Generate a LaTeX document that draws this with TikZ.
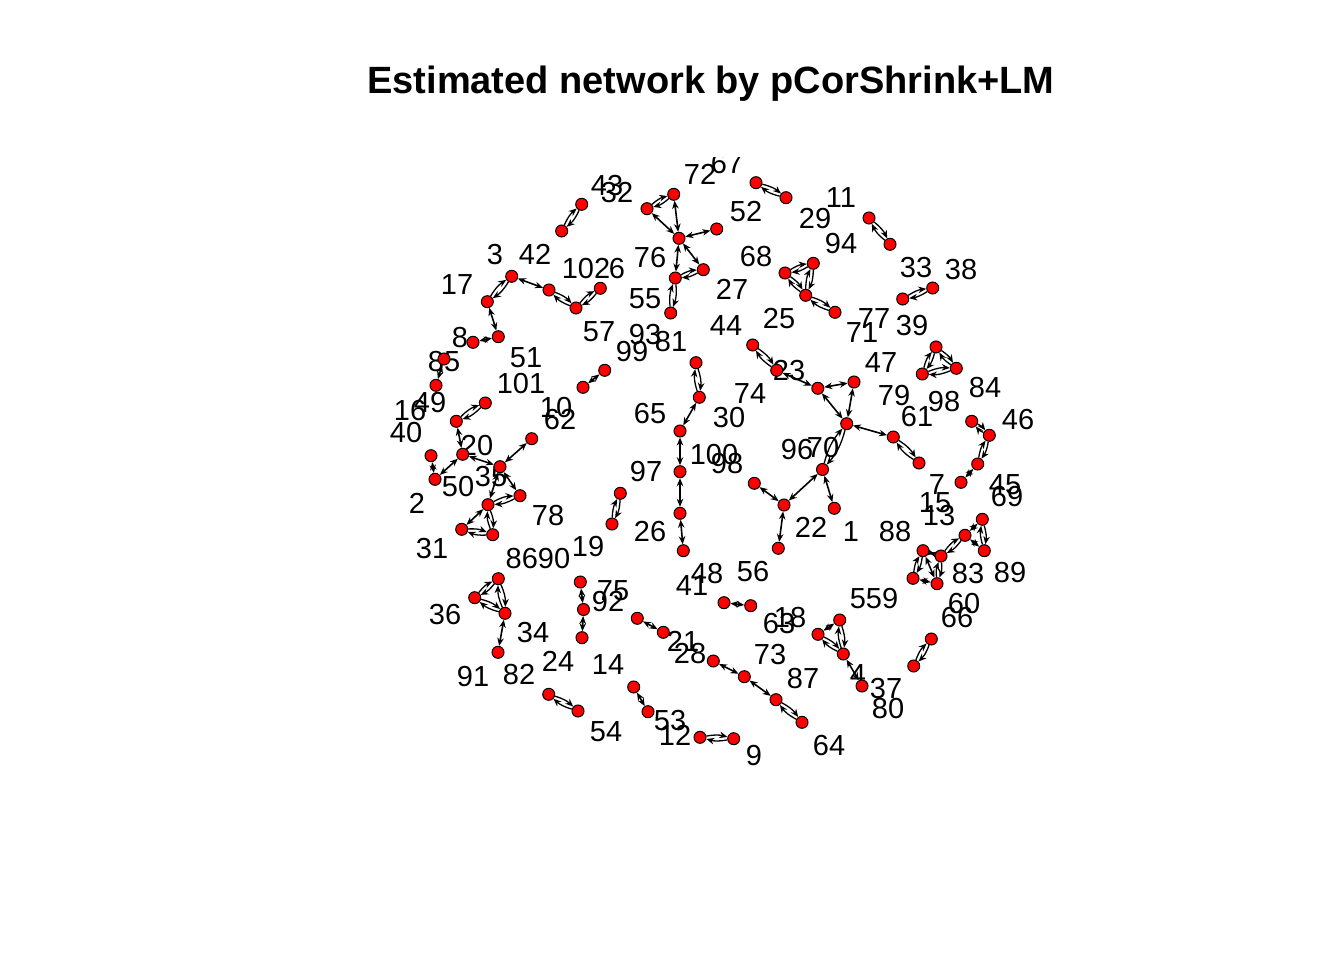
\documentclass[tikz,border=0pt]{standalone}
\usepackage{fontspec}
\setmainfont{Liberation Sans}
\usetikzlibrary{arrows.meta}
\tikzset{
  v/.style={circle,draw=black,fill=red,line width=1pt,inner sep=0pt,minimum size=12pt},
  e/.style={{Stealth[length=8pt,width=6.5pt]}-{Stealth[length=8pt,width=6.5pt]},line width=1.6pt},
  h/.style={-{Stealth[length=8pt,width=6.5pt]},line width=1.3pt},
  lb/.style={font=\fontsize{29}{29}\selectfont,inner sep=0pt,text height=20.8pt,text depth=0pt},
  ttl/.style={font=\fontsize{38}{38}\selectfont\bfseries,inner sep=0pt,text height=27pt,text depth=0pt}
}
\newcommand\lensedge[2]{\draw[h] (#1) to[bend left=13] (#2); \draw[h] (#2) to[bend left=13] (#1);}
\begin{document}
\begin{tikzpicture}[x=1pt,y=-1pt]
\useasboundingbox (0,0) rectangle (1344,960);
\node[ttl] (title) at (711,80) {Estimated network by pCorShrink+LM};
% labels
\node[lb] (L43) at (607,185) {43};
\node[lb] (L32) at (617,192) {32};
\node[lb] (L72) at (700,174) {72};
\begin{scope}
\clip (690,157.5) rectangle (770,200);
\node[lb] (L67) at (727,163) {67};
\end{scope}
\node[lb] (L52) at (746,211) {52};
\node[lb] (L29) at (815,218) {29};
\node[lb] (L11) at (841,197) {11};
\node[lb] (L94) at (841,243) {94};
\node[lb] (L33) at (916,267) {33};
\node[lb] (L38) at (961,269) {38};
\node[lb] (L3) at (495,254) {3};
\node[lb] (L42) at (535,254) {42};
\node[lb] (L102) at (586,268) {102};
\node[lb] (L6) at (617,268) {6};
\node[lb] (L17) at (457,284) {17};
\node[lb] (L76) at (650,257) {76};
\node[lb] (L68) at (756,256) {68};
\node[lb] (L27) at (732,289) {27};
\node[lb] (L55) at (645,298) {55};
\node[lb] (L57) at (599,331) {57};
\node[lb] (L93) at (645,334) {93};
\node[lb] (L99) at (632,351) {99};
\node[lb] (L81) at (671,341) {81};
\node[lb] (L44) at (726,325) {44};
\node[lb] (L25) at (779,318) {25};
\node[lb] (L77) at (874,318) {77};
\node[lb] (L71) at (862,332) {71};
\node[lb] (L39) at (912,325) {39};
\node[lb] (L8) at (460,337) {8};
\node[lb] (L51) at (526,357) {51};
\node[lb] (L85) at (444,361) {85};
\node[lb] (L101) at (521,383) {101};
\node[lb] (L49) at (430,402) {49};
\node[lb] (L16) at (410,410) {16};
\node[lb] (L10) at (556,407) {10};
\node[lb] (L62) at (560,419) {62};
\node[lb] (L40) at (406,432) {40};
\node[lb] (L20) at (477,445) {20};
\node[lb] (L23) at (789,370) {23};
\node[lb] (L74) at (750,393) {74};
\node[lb] (L65) at (650,413) {65};
\node[lb] (L30) at (729,417) {30};
\node[lb] (L100) at (714,454) {100};
\node[lb] (L98b) at (727,463) {98};
\node[lb] (L96) at (797,449) {96};
\node[lb] (L70) at (823,447) {70};
\node[lb] (L47) at (881,362) {47};
\node[lb] (L79) at (894,395) {79};
\node[lb] (L61) at (917,416) {61};
\node[lb] (L98) at (944,401) {98};
\node[lb] (L84) at (985,387) {84};
\node[lb] (L46) at (1018,419) {46};
\node[lb] (L50) at (458,486) {50};
\node[lb] (L35) at (491,476) {35};
\node[lb] (L2) at (417,503) {2};
\node[lb] (L78) at (548,515) {78};
\node[lb] (L31) at (432,548) {31};
\node[lb] (L8690) at (538,558) {8690};
\node[lb] (L19) at (588,546) {19};
\node[lb] (L97) at (646,471) {97};
\node[lb] (L26) at (650,531) {26};
\node[lb] (L22) at (811,527) {22};
\node[lb] (L48) at (707,573) {48};
\node[lb] (L41) at (692,585) {41};
\node[lb] (L56) at (753,571) {56};
\node[lb] (L75) at (613,590) {75};
\node[lb] (L92) at (608,601) {92};
\node[lb] (L1) at (851,531) {1};
\node[lb] (L88) at (895,531) {88};
\node[lb] (L7) at (937,484) {7};
\node[lb] (L15) at (935,502) {15};
\node[lb] (L13) at (939,515) {13};
\node[lb] (L45) at (1005,484) {45};
\node[lb] (L69) at (1007,496) {69};
\node[lb] (L83) at (968,573) {83};
\node[lb] (L89) at (1010,572) {89};
\node[lb] (L559) at (874,598) {559};
\node[lb] (L60) at (964,603) {60};
\node[lb] (L66) at (957,617) {66};
\node[lb] (L36) at (445,614) {36};
\node[lb] (L34) at (533,632) {34};
\node[lb] (L91) at (473,676) {91};
\node[lb] (L82) at (519,674) {82};
\node[lb] (L24) at (558,661) {24};
\node[lb] (L14) at (608,664) {14};
\node[lb] (L54) at (606,731) {54};
\node[lb] (L21) at (683,641) {21};
\node[lb] (L28) at (690,653) {28};
\node[lb] (L63) at (779,623) {63};
\node[lb] (L18) at (790,617) {18};
\node[lb] (L73) at (770,654) {73};
\node[lb] (L87) at (803,678) {87};
\node[lb] (L53) at (670,720) {53};
\node[lb] (L12) at (675,735) {12};
\node[lb] (L9) at (754,755) {9};
\node[lb] (L64) at (829,745) {64};
\node[lb] (L4) at (858,674) {4};
\node[lb] (L37) at (886,688) {37};
\node[lb] (L80) at (888,708) {80};
% vertices
\node[v] (p1) at (581.7,204.3) {}; \node[v] (p2) at (561.7,231) {};
\node[v] (c1) at (487.3,301.7) {}; \node[v] (c2) at (511.7,276.3) {};
\node[v] (c3) at (549,290) {}; \node[v] (c4) at (576,308) {}; \node[v] (c5) at (600.3,288.3) {};
\node[v] (c6) at (498.3,336.7) {}; \node[v] (c7) at (473,342.3) {};
\node[v] (c8) at (444,359) {}; \node[v] (c9) at (436,385.3) {};
\node[v] (c10) at (485.3,403) {}; \node[v] (c11) at (456.3,421.3) {};
\node[v] (c12) at (462.7,454.3) {}; \node[v] (c13) at (431,455.7) {}; \node[v] (c14) at (435,479.3) {};
\node[v] (c15) at (500,466.7) {}; \node[v] (c16) at (531.7,438.7) {}; \node[v] (c17) at (520,495.7) {};
\node[v] (c18) at (488,504.7) {}; \node[v] (c19) at (461.7,529.3) {}; \node[v] (c20) at (492.7,534.7) {};
\node[v] (d1) at (498.3,578.7) {}; \node[v] (d2) at (474.7,597.7) {}; \node[v] (d3) at (505,613.3) {};
\node[v] (d4) at (498,652.3) {}; \node[v] (d5) at (548.7,694.3) {}; \node[v] (d6) at (578,711) {};
\node[v] (d7) at (580.3,582) {}; \node[v] (d8) at (583.5,609.5) {}; \node[v] (d9) at (582,637.7) {};
\node[v] (d10) at (620.3,493.3) {}; \node[v] (d11) at (612,524) {};
\node[v] (d12) at (604.7,370.3) {}; \node[v] (d13) at (583,387.3) {};
\node[v] (m1) at (673.7,194.3) {}; \node[v] (m2) at (647,208.7) {}; \node[v] (m3) at (679,238.3) {};
\node[v] (m4) at (716.7,229) {}; \node[v] (m5) at (703.3,269.7) {}; \node[v] (m6) at (675.3,278) {};
\node[v] (m7) at (670.7,313) {};
\node[v] (m8) at (756,182.7) {}; \node[v] (m9) at (786,197.7) {};
\node[v] (m10) at (869,218) {}; \node[v] (m11) at (890,244.3) {};
\node[v] (m12) at (932.7,288) {}; \node[v] (m13) at (902.7,299) {};
\node[v] (q1) at (785,273) {}; \node[v] (q2) at (813.3,263.3) {}; \node[v] (q3) at (805.7,295.3) {}; \node[v] (q4) at (835,312.3) {};
\node[v] (t1) at (936,347) {}; \node[v] (t2) at (922.3,374) {}; \node[v] (t3) at (956.3,368.3) {};
\node[v] (s1) at (752.7,345) {}; \node[v] (s2) at (776.7,370.3) {}; \node[v] (s3) at (817.8,388.3) {};
\node[v] (s4) at (854,382) {}; \node[v] (s5) at (846.7,423.7) {}; \node[v] (s6) at (893.3,437) {};
\node[v] (s7) at (919,463) {}; \node[v] (s8) at (822.5,469.5) {};
\node[v] (v1) at (696,362.7) {}; \node[v] (v2) at (699.3,397.3) {}; \node[v] (v3) at (680,431) {};
\node[v] (v4) at (680,471.7) {}; \node[v] (v5) at (680,513.3) {}; \node[v] (v6) at (683.3,550.7) {};
\node[v] (w1) at (754.3,483.3) {}; \node[v] (w2) at (784,505) {}; \node[v] (w3) at (778.3,548.3) {}; \node[v] (w4) at (834.3,508.3) {};
\node[v] (x1) at (724,602.7) {}; \node[v] (x2) at (750.7,605.7) {};
\node[v] (r1) at (971.7,421.3) {}; \node[v] (r2) at (989.3,435.3) {}; \node[v] (r3) at (977.7,464) {}; \node[v] (r4) at (961,482.3) {};
\node[v] (k1) at (982.3,519.3) {}; \node[v] (k2) at (965,535.3) {}; \node[v] (k3) at (984.3,550.7) {};
\node[v] (k4) at (941,556) {}; \node[v] (k5) at (923,550.7) {}; \node[v] (k6) at (913,578.3) {}; \node[v] (k7) at (937,583.7) {};
\node[v] (u1) at (839.7,620) {}; \node[v] (u2) at (818,634.3) {}; \node[v] (u3) at (843.3,654) {}; \node[v] (u4) at (862,686) {};
\node[v] (u5) at (931.3,639) {}; \node[v] (u6) at (913.7,666) {};
\node[v] (b1) at (637.3,618.3) {}; \node[v] (b2) at (663.3,632.3) {};
\node[v] (b3) at (713.3,661) {}; \node[v] (b4) at (744.3,676.7) {}; \node[v] (b5) at (776,699.7) {}; \node[v] (b6) at (802,722.3) {};
\node[v] (b7) at (633.7,687) {}; \node[v] (b8) at (648,711.7) {};
\node[v] (b9) at (700,737.3) {}; \node[v] (b10) at (733.7,738.7) {};
% edges
\lensedge{p1}{p2}
\lensedge{c1}{c2}
\draw[e] (c2) -- (c3);
\lensedge{c3}{c4}
\lensedge{c4}{c5}
\draw[e] (c1) -- (c6);
\draw[e] (c7) -- (c6);
\draw[e] (c8) -- (c9);
\lensedge{c10}{c11}
\draw[e] (c11) -- (c12);
\draw[e] (c13) -- (c14);
\draw[e] (c14) -- (c12);
\draw[e] (c12) -- (c15);
\draw[e] (c15) -- (c16);
\draw[e] (c15) -- (c17);
\draw[e] (c15) -- (c18);
\lensedge{c18}{c17}
\draw[e] (c18) -- (c19);
\lensedge{c18}{c20}
\lensedge{c19}{c20}
\lensedge{d1}{d2}
\lensedge{d2}{d3}
\lensedge{d1}{d3}
\draw[e] (d3) -- (d4);
\lensedge{d5}{d6}
\draw[e] (d7) -- (d8);
\draw[e] (d8) -- (d9);
\lensedge{d10}{d11}
\draw[e] (d12) -- (d13);
\lensedge{m2}{m1}
\draw[e] (m1) -- (m3);
\draw[e] (m2) -- (m3);
\draw[e] (m3) -- (m4);
\draw[e] (m3) -- (m5);
\draw[e] (m3) -- (m6);
\lensedge{m6}{m5}
\lensedge{m6}{m7}
\lensedge{m8}{m9}
\lensedge{m10}{m11}
\lensedge{m12}{m13}
\lensedge{q1}{q2}
\lensedge{q2}{q3}
\lensedge{q1}{q3}
\lensedge{q3}{q4}
\lensedge{t1}{t2}
\lensedge{t1}{t3}
\lensedge{t2}{t3}
\lensedge{s1}{s2}
\draw[e] (s2) -- (s3);
\draw[e] (s3) -- (s4);
\draw[e] (s3) -- (s5);
\draw[e] (s4) -- (s5);
\draw[e] (s5) -- (s6);
\lensedge{s6}{s7}
\lensedge{s5}{s8}
\lensedge{v1}{v2}
\draw[e] (v2) -- (v3);
\draw[e] (v3) -- (v4);
\draw[e] (v4) -- (v5);
\draw[e] (v5) -- (v6);
\draw[e] (w1) -- (w2);
\draw[e] (w2) -- (s8);
\draw[e] (w2) -- (w3);
\draw[e] (s8) -- (w4);
\draw[e] (x1) -- (x2);
\lensedge{r1}{r2}
\lensedge{r2}{r3}
\draw[e] (r3) -- (r4);
\draw[e] (k1) -- (k2);
\lensedge{k1}{k3}
\draw[e] (k2) -- (k3);
\lensedge{k2}{k4}
\draw[e] (k4) -- (k5);
\lensedge{k5}{k6}
\lensedge{k4}{k7}
\draw[e] (k5) -- (k7);
\draw[e] (k6) -- (k7);
\draw[e] (u2) -- (u1);
\lensedge{u1}{u3}
\lensedge{u2}{u3}
\draw[e] (u3) -- (u4);
\lensedge{u5}{u6}
\draw[e] (b1) -- (b2);
\draw[e] (b3) -- (b4);
\draw[e] (b4) -- (b5);
\lensedge{b5}{b6}
\draw[e] (b7) -- (b8);
\lensedge{b9}{b10}
\end{tikzpicture}
\end{document}
